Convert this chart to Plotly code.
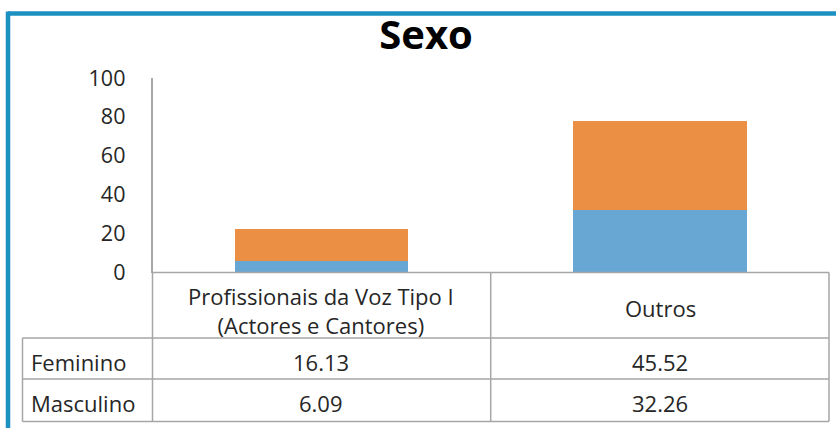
import plotly.graph_objects as go

categories = ["Profissionais da Voz Tipo I<br>(Actores e Cantores)", "Outros"]
cat_keys = ["Prof", "Outros"]
series_names = ["Feminino", "Masculino"]
feminino = [16.13, 45.52]
masculino = [6.09, 32.26]
y_ticks = [0, 20, 40, 60, 80, 100]

W, H = 836, 428
def px(x): return x / W
def py(y): return 1 - y / H

FONT = "Open Sans"
TXT = "#262626"
GRID = "#a6a6a6"
FS = 22

fig = go.Figure()
fig.add_trace(go.Bar(x=cat_keys, y=masculino, name="Masculino", marker=dict(color="#68A6D3", line=dict(width=0))))
fig.add_trace(go.Bar(x=cat_keys, y=feminino, name="Feminino", marker=dict(color="#EA8F44", line=dict(width=0))))

x0, x1 = 152.5, 829
y_top, y_bot = 78, 272.5
fig.update_layout(
    width=W, height=H, margin=dict(l=0, r=0, t=0, b=0, autoexpand=False),
    paper_bgcolor="white", plot_bgcolor="white",
    barmode="stack", bargap=0.487, showlegend=False,
    font=dict(family=FONT, color=TXT),
    xaxis=dict(domain=[px(x0), px(x1)], showticklabels=False, showline=False, showgrid=False,
               zeroline=False, automargin=False),
    yaxis=dict(domain=[py(y_bot), py(y_top)], range=[0, 100], tickvals=y_ticks, automargin=False,
               showgrid=False, zeroline=False, showline=True, linecolor=GRID, linewidth=1.5,
               ticks="", ticklabelstandoff=21, tickfont=dict(size=21.5, family=FONT, color=TXT)),
    title=dict(text="<b>Sexo</b>", x=px(426), xanchor="center", y=py(35), yanchor="middle",
               font=dict(size=40, family=FONT, color="#000000")),
)

shapes = []
def line(xa, ya, xb, yb, color=GRID, w=1.5):
    shapes.append(dict(type="line", xref="paper", yref="paper", x0=px(xa), y0=py(ya), x1=px(xb), y1=py(yb),
                       line=dict(color=color, width=w)))

# table grid
line(x0, y_bot, x1, y_bot)
line(22.5, 338, x1, 338)
line(22.5, 379, x1, 379)
line(22.5, 421.5, x1, 421.5)
line(x0, y_bot, x0, 421.5)
line(22.5, 338, 22.5, 421.5)
line(490.7, y_bot, 490.7, 421.5)
line(x1, y_bot, x1, 421.5)
# frame
line(8, 13.5, 840, 13.5, color="#1B91C1", w=4.5)
line(8, 11.5, 8, 440, color="#1B91C1", w=4.5)
fig.update_layout(shapes=shapes)

col_centers = [320.5, 660]
header_y = [310.5, 308]
ann = []
for c, cx, hy in zip(categories, col_centers, header_y):
    ann.append(dict(text=c, x=px(cx), y=py(hy), xref="paper", yref="paper", showarrow=False,
                    xanchor="center", yanchor="middle", font=dict(size=FS, family=FONT, color=TXT)))
row_y = [361.5, 403]
for name, vals, ry in zip(series_names, [feminino, masculino], row_y):
    ann.append(dict(text=name, x=px(29), y=py(ry), xref="paper", yref="paper", showarrow=False,
                    xanchor="left", yanchor="middle", font=dict(size=FS, family=FONT, color=TXT)))
    for v, cx in zip(vals, col_centers):
        ann.append(dict(text=f"{v:.2f}", x=px(cx), y=py(ry), xref="paper", yref="paper", showarrow=False,
                        xanchor="center", yanchor="middle", font=dict(size=FS, family=FONT, color=TXT)))
fig.update_layout(annotations=ann)

fig.write_html("out.html", config={"displayModeBar": False},
               post_script="document.body.style.margin='0';")
